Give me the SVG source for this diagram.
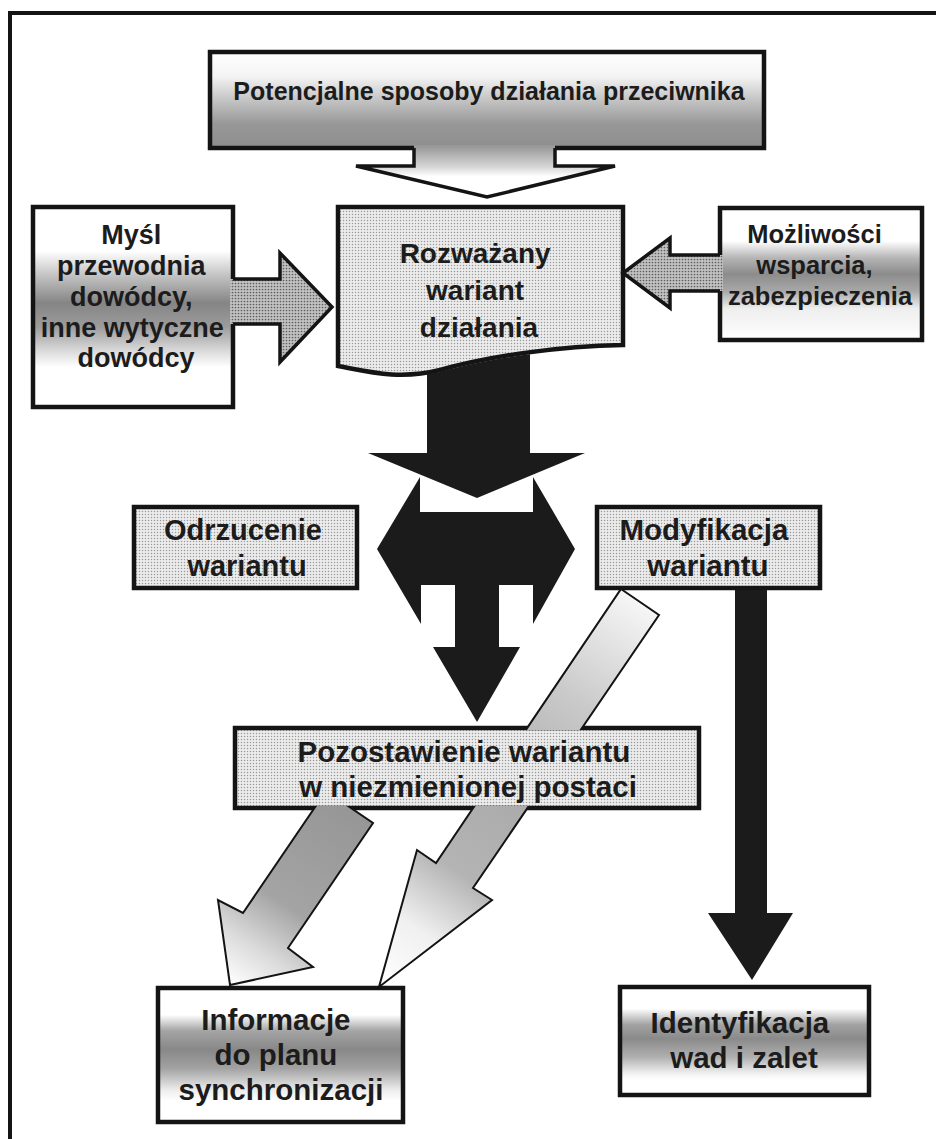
<svg xmlns="http://www.w3.org/2000/svg" width="936" height="1139" viewBox="0 0 936 1139">
  <style>
    .box { stroke: #141414; stroke-width: 4.5; }
    .lbl { font-family: "Liberation Sans", Arial, Helvetica, sans-serif; font-weight: bold; fill: #1c1c1c; text-anchor: middle; }
    .blk { fill: #1b1b1b; }
    .edge { fill: none; stroke: #141414; stroke-width: 3.5; stroke-linejoin: miter; }
    .thin { stroke: #141414; stroke-width: 2; stroke-linejoin: miter; }
  </style>
  <defs>
    <!-- light dotted screen used for the neutral boxes -->
    <pattern id="dotsLight" width="3" height="3" patternUnits="userSpaceOnUse">
      <rect width="3" height="3" fill="#ececec"/>
      <circle cx="1.5" cy="1.5" r="0.75" fill="#9a9a9a"/>
    </pattern>
    <!-- darker dotted screen for the side input arrows -->
    <pattern id="dotsDark" width="3" height="3" patternUnits="userSpaceOnUse">
      <rect width="3" height="3" fill="#c2c2c2"/>
      <circle cx="1.5" cy="1.5" r="0.85" fill="#5e5e5e"/>
    </pattern>

    <linearGradient id="gTop" x1="0" y1="0" x2="0" y2="1">
      <stop offset="0" stop-color="#ffffff"/>
      <stop offset="0.25" stop-color="#f4f4f4"/>
      <stop offset="0.5" stop-color="#c4c4c4"/>
      <stop offset="0.75" stop-color="#979797"/>
      <stop offset="1" stop-color="#8e8e8e"/>
    </linearGradient>
    <linearGradient id="gHollow" gradientUnits="userSpaceOnUse" x1="0" y1="146" x2="0" y2="197">
      <stop offset="0" stop-color="#979797"/>
      <stop offset="0.4" stop-color="#d4d4d4"/>
      <stop offset="0.6" stop-color="#ffffff"/>
      <stop offset="1" stop-color="#ffffff"/>
    </linearGradient>
    <linearGradient id="gMysl" x1="0" y1="0" x2="0" y2="1">
      <stop offset="0" stop-color="#ffffff"/>
      <stop offset="0.22" stop-color="#ffffff"/>
      <stop offset="0.34" stop-color="#c4c4c4"/>
      <stop offset="0.48" stop-color="#858585"/>
      <stop offset="0.6" stop-color="#9c9c9c"/>
      <stop offset="0.72" stop-color="#dadada"/>
      <stop offset="0.8" stop-color="#ffffff"/>
      <stop offset="1" stop-color="#ffffff"/>
    </linearGradient>
    <linearGradient id="gMozl" x1="0" y1="0" x2="0" y2="1">
      <stop offset="0" stop-color="#ffffff"/>
      <stop offset="0.25" stop-color="#ffffff"/>
      <stop offset="0.38" stop-color="#b4b4b4"/>
      <stop offset="0.5" stop-color="#8c8c8c"/>
      <stop offset="0.63" stop-color="#a8a8a8"/>
      <stop offset="0.76" stop-color="#eeeeee"/>
      <stop offset="1" stop-color="#ffffff"/>
    </linearGradient>
    <linearGradient id="gInfo" x1="0" y1="0" x2="0" y2="1">
      <stop offset="0" stop-color="#ffffff"/>
      <stop offset="0.2" stop-color="#ffffff"/>
      <stop offset="0.32" stop-color="#a4a4a4"/>
      <stop offset="0.46" stop-color="#888888"/>
      <stop offset="0.6" stop-color="#a2a2a2"/>
      <stop offset="0.76" stop-color="#ececec"/>
      <stop offset="0.84" stop-color="#ffffff"/>
      <stop offset="1" stop-color="#ffffff"/>
    </linearGradient>
    <linearGradient id="gIdent" x1="0" y1="0" x2="0" y2="1">
      <stop offset="0" stop-color="#ffffff"/>
      <stop offset="0.2" stop-color="#ffffff"/>
      <stop offset="0.35" stop-color="#a2a2a2"/>
      <stop offset="0.48" stop-color="#8a8a8a"/>
      <stop offset="0.65" stop-color="#b0b0b0"/>
      <stop offset="0.8" stop-color="#f0f0f0"/>
      <stop offset="0.86" stop-color="#ffffff"/>
      <stop offset="1" stop-color="#ffffff"/>
    </linearGradient>
    <linearGradient id="gDiag1" gradientUnits="userSpaceOnUse" x1="350" y1="805" x2="230" y2="985">
      <stop offset="0" stop-color="#969696"/>
      <stop offset="0.55" stop-color="#a4a4a4"/>
      <stop offset="0.8" stop-color="#dcdcdc"/>
      <stop offset="1" stop-color="#ffffff"/>
    </linearGradient>
    <linearGradient id="gDiag2" gradientUnits="userSpaceOnUse" x1="640" y1="602" x2="379" y2="987">
      <stop offset="0" stop-color="#f6f6f6"/>
      <stop offset="0.25" stop-color="#cacaca"/>
      <stop offset="0.5" stop-color="#ababab"/>
      <stop offset="0.7" stop-color="#b4b4b4"/>
      <stop offset="0.85" stop-color="#f0f0f0"/>
      <stop offset="1" stop-color="#ffffff"/>
    </linearGradient>

    <!-- connectors that pass behind boxes are cut out where the boxes sit -->
    <clipPath id="behindBoxes">
      <path clip-rule="evenodd" d="M0,0H936V1139H0Z M237,730H697V806H237Z M599,509H818V586H599Z M340,209H621V347C560,348 490,358 440,372C400,380 370,372 340,367Z"/>
    </clipPath>
  </defs>

  <!-- page frame -->
  <path d="M10,1139V13H936" fill="none" stroke="#141414" stroke-width="4"/>

  <!-- nodes -->
  <g id="node-przeciwnik">
    <rect class="box" x="210" y="52" width="554" height="96" fill="url(#gTop)"/>
    <text class="lbl" x="489" y="100" font-size="25">Potencjalne sposoby działania przeciwnika</text>
  </g>

  <g id="node-mysl">
    <rect class="box" x="33" y="207" width="200" height="200" fill="url(#gMysl)"/>
    <text class="lbl" font-size="27">
      <tspan x="135" y="244">Myśl</tspan>
      <tspan x="135" y="275">przewodnia</tspan>
      <tspan x="135" y="306">dowódcy,</tspan>
      <tspan x="136" y="337">inne wytyczne</tspan>
      <tspan x="136" y="367">dowódcy</tspan>
    </text>
  </g>

  <g id="node-wariant">
    <path class="box" fill="url(#dotsLight)" d="M338,207H623V345C560,346 490,356 440,370C400,380 370,372 338,366Z"/>
    <text class="lbl" font-size="28">
      <tspan x="479" y="263">Rozważany</tspan>
      <tspan x="479" y="300">wariant</tspan>
      <tspan x="479" y="337">działania</tspan>
    </text>
  </g>

  <g id="node-mozliwosci">
    <rect class="box" x="720" y="208" width="202" height="132" fill="url(#gMozl)"/>
    <text class="lbl" font-size="25.5">
      <tspan x="818" y="243">Możliwości</tspan>
      <tspan x="818" y="274">wsparcia,</tspan>
      <tspan x="820" y="305">zabezpieczenia</tspan>
    </text>
  </g>

  <g id="node-odrzucenie">
    <rect class="box" x="134" y="507" width="223" height="81" fill="url(#dotsLight)"/>
    <text class="lbl" font-size="29">
      <tspan x="247" y="540">Odrzucenie</tspan>
      <tspan x="247" y="576">wariantu</tspan>
    </text>
  </g>

  <g id="node-modyfikacja">
    <rect class="box" x="597" y="507" width="223" height="81" fill="url(#dotsLight)"/>
    <text class="lbl" font-size="29.5">
      <tspan x="708" y="540">Modyfikacja</tspan>
      <tspan x="708" y="576">wariantu</tspan>
    </text>
  </g>

  <g id="node-pozostawienie">
    <rect class="box" x="235" y="728" width="464" height="80" fill="url(#dotsLight)"/>
    <text class="lbl" font-size="29.5">
      <tspan x="468" y="762">Pozostawienie wariantu</tspan>
      <tspan x="468" y="797">w niezmienionej postaci</tspan>
    </text>
  </g>

  <g id="node-informacje">
    <rect class="box" x="158" y="988" width="245" height="134" fill="url(#gInfo)"/>
    <text class="lbl" font-size="29.5">
      <tspan x="280" y="1030">Informacje</tspan>
      <tspan x="280" y="1065">do planu</tspan>
      <tspan x="281" y="1100">synchronizacji</tspan>
    </text>
  </g>

  <g id="node-identyfikacja">
    <rect class="box" x="620" y="987" width="249" height="108" fill="url(#gIdent)"/>
    <text class="lbl" font-size="29.5">
      <tspan x="744" y="1033">Identyfikacja</tspan>
      <tspan x="744" y="1068">wad i zalet</tspan>
    </text>
  </g>

  <!-- connectors -->
  <g id="connectors">
    <!-- hollow block arrow: enemy courses of action into the considered variant -->
    <polygon fill="url(#gHollow)" points="414,145 414,166 356,166 487,197 615,166 555,166 555,145"/>
    <polyline class="edge" points="414,148 414,166 356,166 487,197 615,166 555,166 555,148"/>

    <!-- side input arrows -->
    <polygon fill="url(#dotsDark)" points="230,279 280,279 280,253 332,307 280,362 280,324 230,324"/>
    <polyline class="edge" points="233,279 280,279 280,253 332,307 280,362 280,324 233,324"/>
    <polygon fill="url(#dotsDark)" points="723,255 670,255 670,238 623,273 670,308 670,291 723,291"/>
    <polyline class="edge" points="720,255 670,255 670,238 623,273 670,308 670,291 720,291"/>

    <!-- diagonal arrows towards the synchronisation plan -->
    <g clip-path="url(#behindBoxes)">
      <polygon class="thin" fill="url(#gDiag1)" points="326,791 373,823 288,948 313,967 230,985 218,900 243,913"/>
      <polygon class="thin" fill="url(#gDiag2)" points="621,589 659,615 473,888 492,900 379,987 417,850 436,863"/>
      <!-- thick black arrow out of the considered variant -->
      <path class="blk" d="M427,330V453H368L477,498L585,453H530V330Z"/>
    </g>

    <!-- branching double-headed arrow with its downward outlet -->
    <path class="blk" d="M420,477L377,549L421,624V585H455V647H433L477,722L520,647H499V585H533V624L575,549L533,477V512H420Z"/>

    <!-- modification branch down to strengths and weaknesses -->
    <path class="blk" d="M735,590V913H708L752,980L793,913H767V590Z"/>
  </g>
</svg>
